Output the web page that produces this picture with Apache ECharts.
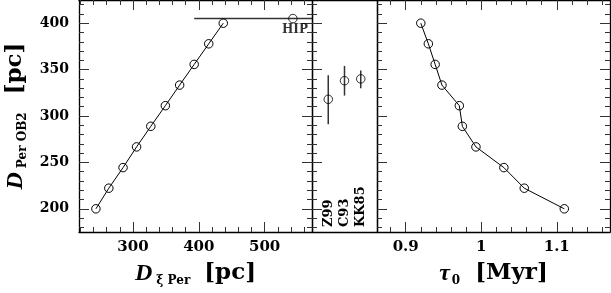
<!DOCTYPE html>
<html>
<head>
<meta charset="utf-8">
<script src="https://cdn.jsdelivr.net/npm/echarts@6/dist/echarts.min.js"></script>
<style>html,body{margin:0;padding:0;background:#fff}#c{width:611px;height:293px}</style>
</head>
<body>
<div id="c"></div>
<script>
// ---- data ----
const dPerOB2 = [200, 222.2, 244.4, 266.7, 288.9, 311.1, 333.3, 355.6, 377.8, 400];
const dXiPer  = [243.7, 263.3, 284.9, 305.5, 327.1, 349.2, 370.9, 393.0, 415.1, 437.2];
const tau0    = [1.110, 1.057, 1.030, 0.993, 0.975, 0.971, 0.948, 0.939, 0.930, 0.920];
const hipXi = 543, hipPer = 405, hipXiLow = 393, hipXiHigh = 700;
const refNames = ['Z99', 'C93', 'KK85'];
const refPos   = [1, 2, 3];
const refDist  = [318, 338, 340];
const refLow   = [291, 322, 330];
const refHigh  = [344, 354, 349];
// ---- tick values ----
const yMajor = [200, 250, 300, 350, 400];
const yMinor = [180, 190, 210, 220, 230, 240, 260, 270, 280, 290, 310, 320, 330, 340, 360, 370, 380, 390, 410, 420];
const xLeftMajor = [300, 400, 500];
const xLeftMinor = [220, 240, 260, 280, 320, 340, 360, 380, 420, 440, 460, 480, 520, 540, 560];
const xRightMajor = [0.9, 1, 1.1];
const xRightMinor = [0.88, 0.92, 0.94, 0.96, 0.98, 1.02, 1.04, 1.06, 1.08, 1.12, 1.14, 1.16];

const SERIF = '"DejaVu Serif", "Liberation Serif", serif';
const TSERIF = '"Liberation Serif", "DejaVu Serif", serif';
const lineCol = '#000';
const tickCol = '#333';

const grids = [
  {left: 79, top: 0, width: 233, height: 232},
  {left: 312, top: 0, width: 65, height: 232},
  {left: 377, top: 0, width: 233, height: 232}
];

const xAxes = [], yAxes = [];
function ax(list, o) { list.push(o); return list.length - 1; }
function baseAxis(grid, pos, min, max, ticks, len, line, label) {
  return {
    type: 'value', gridIndex: grid, position: pos, min: min, max: max,
    splitLine: {show: false},
    axisLine: {show: line, onZero: false, lineStyle: {color: lineCol, width: 1.3}},
    axisTick: ticks ? {show: true, inside: true, length: len, customValues: ticks, lineStyle: {color: tickCol, width: 1}} : {show: false},
    axisLabel: label || {show: false}
  };
}
const xLab = {show: true, customValues: null, margin: 8, color: '#000', fontFamily: SERIF, fontWeight: 'bold', fontSize: 15};
const yLab = {show: true, customValues: yMajor, margin: 10, color: '#000', fontFamily: SERIF, fontWeight: 'bold', fontSize: 14};
function titleRich(subPadRight) {
  return {
    D: {fontFamily: TSERIF, fontStyle: 'italic', fontWeight: 'bold', fontSize: 24, color: '#000'},
    s: {fontFamily: SERIF, fontWeight: 'bold', fontSize: 12, color: '#000', padding: [15, subPadRight, 0, 4]},
    u: {fontFamily: SERIF, fontWeight: 'bold', fontSize: 23, color: '#000'}
  };
}

// Left panel axes
const xL = ax(xAxes, Object.assign(baseAxis(0, 'bottom', 218, 572, xLeftMajor, 10, true, Object.assign({}, xLab, {customValues: xLeftMajor})), {
  name: '{D|D}{s|ξ Per}{u|[pc]}', nameLocation: 'middle', nameGap: 28,
  nameTextStyle: {rich: titleRich(14)}
}));
ax(xAxes, baseAxis(0, 'bottom', 218, 572, xLeftMinor, 5, false));
ax(xAxes, baseAxis(0, 'top', 218, 572, xLeftMajor, 10, true));
ax(xAxes, baseAxis(0, 'top', 218, 572, xLeftMinor, 5, false));
const yL = ax(yAxes, Object.assign(baseAxis(0, 'left', 175, 425, yMajor, 10, true, yLab), {
  name: '{D|D}{s|Per OB2}{u|[pc]}', nameLocation: 'middle', nameGap: 50, nameRotate: 90,
  nameTextStyle: {rich: titleRich(18)}
}));
ax(yAxes, baseAxis(0, 'left', 175, 425, yMinor, 5, false));
ax(yAxes, baseAxis(0, 'right', 175, 425, yMajor, 10, true));
ax(yAxes, baseAxis(0, 'right', 175, 425, yMinor, 5, false));

// Middle panel axes
const xM = ax(xAxes, baseAxis(1, 'bottom', 0, 4, null, 0, true, {
  show: true, customValues: refPos, inside: true, rotate: 90, margin: 5,
  formatter: v => refNames[refPos.indexOf(v)] || '',
  color: '#000', fontFamily: SERIF, fontWeight: 'bold', fontSize: 13
}));
ax(xAxes, baseAxis(1, 'top', 0, 4, null, 0, true));
const yM = ax(yAxes, baseAxis(1, 'left', 175, 425, yMajor, 10, true));
ax(yAxes, baseAxis(1, 'left', 175, 425, yMinor, 5, false));
ax(yAxes, baseAxis(1, 'right', 175, 425, null, 0, true));

// Right panel axes
const xR = ax(xAxes, Object.assign(baseAxis(2, 'bottom', 0.862, 1.1705, xRightMajor, 10, true, Object.assign({}, xLab, {customValues: xRightMajor})), {
  name: '{t|τ}{s|0}{u|[Myr]}', nameLocation: 'middle', nameGap: 28,
  nameTextStyle: {rich: {
    t: {fontFamily: TSERIF, fontStyle: 'italic', fontWeight: 'bold', fontSize: 24, color: '#000'},
    s: {fontFamily: SERIF, fontWeight: 'bold', fontSize: 12, color: '#000', padding: [15, 15, 0, 2]},
    u: {fontFamily: SERIF, fontWeight: 'bold', fontSize: 23, color: '#000'}
  }}
}));
ax(xAxes, baseAxis(2, 'bottom', 0.862, 1.1705, xRightMinor, 5, false));
ax(xAxes, baseAxis(2, 'top', 0.862, 1.1705, xRightMajor, 10, true));
ax(xAxes, baseAxis(2, 'top', 0.862, 1.1705, xRightMinor, 5, false));
const yR = ax(yAxes, baseAxis(2, 'left', 175, 425, yMajor, 10, true));
ax(yAxes, baseAxis(2, 'left', 175, 425, yMinor, 5, false));
ax(yAxes, baseAxis(2, 'right', 175, 425, yMajor, 10, true));
ax(yAxes, baseAxis(2, 'right', 175, 425, yMinor, 5, false));

const markerStyle = {color: 'rgba(0,0,0,0)', borderColor: '#000', borderWidth: 1};
const SYM = 8.5;

function clampRender(params, api) {
  const cs = params.coordSys;
  const a = api.coord([api.value(0), api.value(2)]);
  const b = api.coord([api.value(1), api.value(2)]);
  const x1 = Math.max(cs.x, Math.min(cs.x + cs.width, a[0]));
  const x2 = Math.max(cs.x, Math.min(cs.x + cs.width, b[0]));
  return {type: 'line', shape: {x1: x1, y1: a[1], x2: x2, y2: b[1]}, style: {stroke: '#333', lineWidth: 1.5}};
}
function vertRender(params, api) {
  const a = api.coord([api.value(0), api.value(1)]);
  const b = api.coord([api.value(0), api.value(2)]);
  return {type: 'line', shape: {x1: a[0], y1: a[1], x2: b[0], y2: b[1]}, style: {stroke: '#333', lineWidth: 1.5}};
}

const option = {
  animation: false,
  backgroundColor: '#fff',
  grid: grids,
  xAxis: xAxes,
  yAxis: yAxes,
  series: [
    {type: 'line', xAxisIndex: xL, yAxisIndex: yL, data: dXiPer.map((x, i) => [x, dPerOB2[i]]),
     symbol: 'circle', symbolSize: SYM, showAllSymbol: true, lineStyle: {color: '#000', width: 1}, itemStyle: markerStyle},
    {type: 'custom', xAxisIndex: xL, yAxisIndex: yL, data: [[hipXiLow, hipXiHigh, hipPer]], renderItem: clampRender, z: 1},
    {type: 'scatter', xAxisIndex: xL, yAxisIndex: yL, data: [[hipXi, hipPer]], symbol: 'circle', symbolSize: SYM, itemStyle: markerStyle,
     label: {show: true, formatter: 'HIP', position: 'bottom', distance: 1, offset: [2, 0], color: '#000', fontFamily: SERIF, fontWeight: 'bold', fontSize: 12}},
    {type: 'custom', xAxisIndex: xM, yAxisIndex: yM, data: refPos.map((p, i) => [p, refLow[i], refHigh[i]]), renderItem: vertRender, z: 1},
    {type: 'scatter', xAxisIndex: xM, yAxisIndex: yM, data: refPos.map((p, i) => [p, refDist[i]]), symbol: 'circle', symbolSize: SYM, itemStyle: markerStyle},
    {type: 'line', xAxisIndex: xR, yAxisIndex: yR, data: tau0.map((t, i) => [t, dPerOB2[i]]),
     symbol: 'circle', symbolSize: SYM, showAllSymbol: true, lineStyle: {color: '#000', width: 1}, itemStyle: markerStyle}
  ]
};
const chart = echarts.init(document.getElementById('c'), null, {renderer: 'canvas'});
chart.setOption(option);
</script>
</body>
</html>
